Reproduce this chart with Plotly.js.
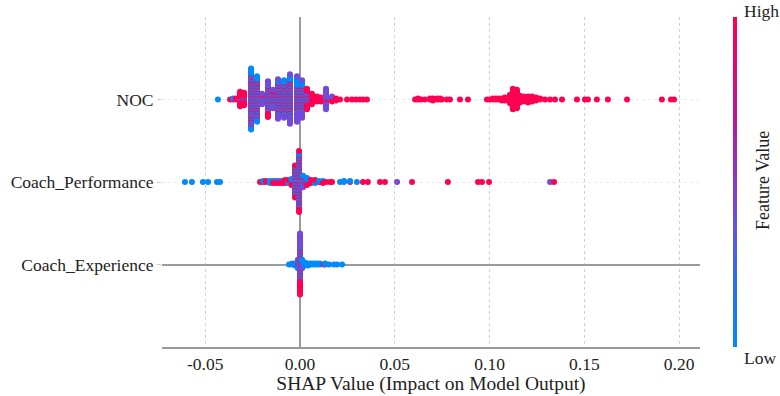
<!DOCTYPE html>
<html><head><meta charset="utf-8">
<script src="https://cdn.plot.ly/plotly-3.0.1.min.js"></script>
<style>html,body{margin:0;padding:0;background:#fff}</style>
</head><body><div id="chart" style="width:780px;height:396px"></div>
<script>
// Feature rows (bottom to top)
const features = ['Coach_Experience', 'Coach_Performance', 'NOC'];
const xTickVals = [-0.05, 0, 0.05, 0.10, 0.15, 0.20];
const xTickText = ['-0.05', '0.00', '0.05', '0.10', '0.15', '0.20'];

// SHAP values grouped in narrow bins; counts of points with high / mid / low feature value
const nocX = [-0.0433,-0.0369,-0.0353,-0.0338,-0.0316,-0.0295,-0.0258,-0.0227,-0.0200,-0.0169,-0.0142,-0.0116,-0.0084,-0.0053,-0.0016,0.0011,0.0037,0.0063,0.0090,0.0111,0.0137,0.0169,0.0190,0.0211,0.0248,0.0274,0.0295,0.0316,0.0332,0.0353,
  0.0607,0.0622,0.0638,0.0659,0.0686,0.0701,0.0723,0.0738,0.0749,0.0775,0.0791,0.0844,0.0886,0.0986,0.1002,0.1018,0.1034,0.1050,0.1065,0.1081,0.1108,0.1123,0.1144,0.1160,0.1181,0.1203,0.1224,0.1245,0.1266,0.1292,0.1319,0.1345,0.1382,0.1461,0.1503,0.1519,0.1566,0.1624,0.1725,0.1909,0.1957,0.1973];
const nocHigh = [0,1,1,2,12,10,18,14,4,14,7,12,12,14,10,10,12,10,6,5,4,3,3,1,1,1,1,1,1,1,
  1,2,1,1,2,3,2,2,1,1,1,1,1,1,1,2,2,2,3,4,10,22,20,8,6,7,6,4,2,1,1,1,1,1,1,1,1,1,1,1,1,1];
const nocMid = [0,0,0,0,3,2,22,16,5,14,8,16,14,20,20,16,6,2,0,0,16,3,0,0,0,0,0,0,0,0,
  0,0,0,0,0,0,0,0,0,0,0,0,0,0,0,0,0,0,0,0,0,0,0,0,0,0,0,0,0,0,0,0,0,0,0,0,0,0,0,0,0,0];
const nocLow = [1,0,1,0,1,2,24,18,3,10,5,14,14,18,18,14,4,0,0,0,2,0,0,0,0,0,0,0,0,0,
  0,0,0,0,0,0,0,0,0,0,0,0,0,0,0,0,0,0,0,0,0,0,0,0,0,0,0,0,0,0,0,0,0,0,0,0,0,0,0,0,0,0];

const perfX = [-0.0607,-0.0570,-0.0512,-0.0485,-0.0438,-0.0422,-0.0211,-0.0195,-0.0179,-0.0158,-0.0142,-0.0127,-0.0110,-0.0095,-0.0079,-0.0063,-0.0045,-0.0026,-0.0005,0.0016,0.0037,0.0058,0.0079,0.0100,0.0121,0.0137,0.0158,0.0169,0.0211,0.0232,0.0264,0.0300,0.0332,0.0358,0.0422,0.0448,0.0512,0.0591,0.0780,0.0939,0.0960,0.0997,0.1319,0.1340];
const perfHigh = [0,0,0,0,0,0,1,1,2,1,2,2,2,2,3,2,3,12,22,4,3,3,2,1,2,1,1,1,0,0,1,0,1,1,1,1,0,1,1,1,1,1,0,1];
const perfMid  = [0,0,0,0,0,0,0,0,0,0,0,1,0,1,0,1,2,10,18,4,2,0,1,0,0,0,0,0,0,0,0,0,0,0,0,0,1,0,0,0,0,0,1,0];
const perfLow  = [1,1,1,1,1,1,0,1,0,2,1,0,1,0,1,1,2,10,20,4,3,1,1,1,1,0,0,0,1,2,1,1,0,0,0,0,0,0,0,0,0,0,0,0];

const expX = [-0.0058,-0.0042,-0.0026,-0.0011,0.0000,0.0011,0.0026,0.0042,0.0058,0.0074,0.0090,0.0105,0.0127,0.0132,0.0153,0.0179,0.0195,0.0222];
const expHigh = [0,0,0,3,26,2,0,0,0,0,0,0,1,0,0,0,0,0];
const expMid  = [0,0,1,4,26,4,0,0,0,0,0,0,0,1,0,0,0,0];
const expLow  = [1,2,2,3,12,4,4,3,2,2,2,2,0,1,1,1,1,1];

const FV_HIGH = 1, FV_MID = 0.42, FV_LOW = 0;

function buildRow(xs, hi, mid, lo, row) {
  const bins = xs.map((x, i) => {
    const pts = []; let h = hi[i], m = mid[i], l = lo[i];
    while (h + m + l > 0) {
      if (h > 0) { pts.push(FV_HIGH); h--; }
      if (m > 0) { pts.push(FV_MID); m--; }
      if (l > 0) { pts.push(FV_LOW); l--; }
    }
    return { x, pts };
  });
  let maxLayer = 1;
  bins.forEach(b => { maxLayer = Math.max(maxLayer, Math.ceil((b.pts.length - 1) / 2)); });
  const scale = 0.375 / maxLayer;
  const X = [], Y = [], C = [];
  bins.forEach(b => {
    b.pts.forEach((fv, k) => {
      const off = Math.ceil(k / 2) * (k % 2 ? 1 : -1);
      X.push(b.x); Y.push(row + off * scale); C.push(fv);
    });
  });
  return { X, Y, C };
}

const rows = [
  buildRow(expX, expHigh, expMid, expLow, 0),
  buildRow(perfX, perfHigh, perfMid, perfLow, 1),
  buildRow(nocX, nocHigh, nocMid, nocLow, 2)
];
const allX = [], allY = [], allC = [];
rows.forEach(r => { allX.push(...r.X); allY.push(...r.Y); allC.push(...r.C); });

const colorscale = [
  [0, 'rgb(0,138,251)'], [0.2, 'rgb(45,108,245)'], [0.4, 'rgb(110,78,222)'],
  [0.55, 'rgb(145,48,190)'], [0.7, 'rgb(185,22,150)'], [0.85, 'rgb(228,6,112)'], [1, 'rgb(255,0,82)']
];

const FONT = '"Liberation Serif"';

const trace = {
  type: 'scatter', mode: 'markers', x: allX, y: allY,
  marker: {
    size: 6, color: allC, cmin: 0, cmax: 1, colorscale: colorscale, line: { width: 0 },
    showscale: true,
    colorbar: {
      thickness: 4, lenmode: 'fraction', len: 1, yref: 'paper', y: 0, yanchor: 'bottom',
      xref: 'paper', x: 1.0613, xanchor: 'left', xpad: 0, ypad: 0,
      outlinewidth: 0, showticklabels: false, ticks: ''
    }
  },
  hoverinfo: 'x', showlegend: false
};

const layout = {
  width: 780, height: 396,
  margin: { l: 162, r: 80, t: 17, b: 49 },
  paper_bgcolor: '#fff', plot_bgcolor: '#fff',
  font: { family: FONT, size: 17, color: '#222' },
  xaxis: {
    range: [-0.0728, 0.211], tickvals: xTickVals, ticktext: xTickText,
    showgrid: true, gridcolor: '#cfcfcf', griddash: 'dot', gridwidth: 1,
    zeroline: true, zerolinecolor: '#9a9a9a', zerolinewidth: 2,
    showline: true, linecolor: '#9a9a9a', linewidth: 1.5,
    ticks: '', 
    tickfont: { family: FONT, size: 17.5, color: '#222' },
    title: { text: 'SHAP Value (Impact on Model Output)', font: { family: FONT, size: 19.5, color: '#222' }, standoff: 2 }
  },
  yaxis: {
    range: [-1, 3], tickvals: [0, 1, 2], ticktext: features,
    showgrid: true, gridcolor: '#ececec', griddash: 'dot', gridwidth: 1,
    zeroline: true, zerolinecolor: '#9a9a9a', zerolinewidth: 2,
    showline: false, ticks: 'outside', ticklen: 4, tickcolor: '#cccccc',
    tickfont: { family: FONT, size: 17.5, color: '#222' }
  },
  annotations: [
    { text: 'High', xref: 'paper', yref: 'paper', x: 1.078, y: 1.018, xanchor: 'left', yanchor: 'middle', showarrow: false, font: { family: FONT, size: 17.5, color: '#222' } },
    { text: 'Low', xref: 'paper', yref: 'paper', x: 1.078, y: -0.033, xanchor: 'left', yanchor: 'middle', showarrow: false, font: { family: FONT, size: 17.5, color: '#222' } },
    { text: 'Feature Value', xref: 'paper', yref: 'paper', x: 1.117, y: 0.506, xanchor: 'center', yanchor: 'middle', textangle: -90, showarrow: false, font: { family: FONT, size: 18, color: '#222' } }
  ]
};

Plotly.newPlot('chart', [trace], layout, { displayModeBar: false, staticPlot: true });
</script>
</body></html>
